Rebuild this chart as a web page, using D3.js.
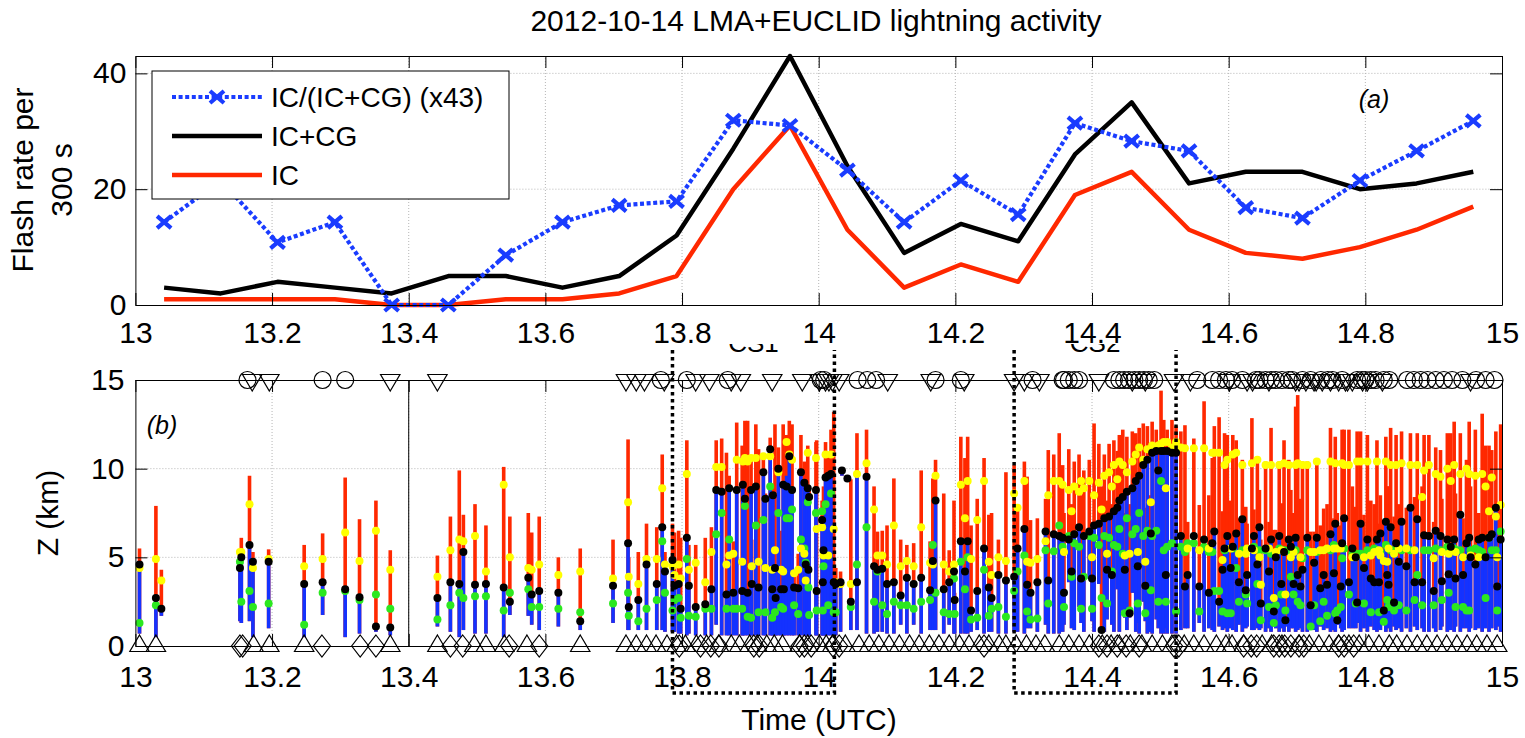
<!DOCTYPE html>
<html><head><meta charset="utf-8">
<script src="https://cdn.jsdelivr.net/npm/d3@7"></script>
<style>
body{margin:0;background:#fff}
svg text{font-family:"Liberation Sans",Arial,Helvetica,sans-serif;fill:#000}
</style>
</head><body>
<svg id="c" width="1525" height="738"></svg>
<script>
// ---------------- DATA ----------------
const xTicks = [13, 13.2, 13.4, 13.6, 13.8, 14, 14.2, 14.4, 14.6, 14.8, 15];
const rateTicks = [0, 20, 40];
const zTicks = [0, 5, 10, 15];

// panel (a): 300 s bins
const binTime = [13.042,13.125,13.208,13.292,13.375,13.458,13.542,13.625,13.708,13.792,13.875,13.958,
                 14.042,14.125,14.208,14.292,14.375,14.458,14.542,14.625,14.708,14.792,14.875,14.958];
const rateTotal = [3,2,4,3,2,5,5,3,5,12,27,43,24,9,14,11,26,35,21,23,23,20,21,23];
const rateIC    = [1,1,1,1,0,0,1,1,2,5,20,31,13,3,7,4,19,23,13,9,8,10,13,17];
const rateRatio43 = [14.3,21.5,10.8,14.3,0,0,8.6,14.3,17.2,17.9,31.9,31.0,23.3,14.3,21.5,15.6,31.4,28.3,26.6,16.8,15.0,21.5,26.6,31.8];
const legendLabels = ["IC/(IC+CG) (x43)", "IC+CG", "IC"];

// panel (b): flashes  [time, zBottom, zSplit, zTop, zYellow, zBlack, zGreen]
const flashesEarly = [
[13.006,0.7,4.6,5.5,4.4,4.6,1.3],[13.030,0.5,2.6,7.9,4.9,2.7,2.3],[13.038,1.7,2.1,4.3,3.7,2.1,null],
[13.153,1.4,4.4,4.7,5.3,4.4,4.75],[13.155,1.3,5.0,6.1,5.3,5.0,2.5],[13.167,1.4,5.7,9.6,8.0,5.7,3.1],
[13.172,0.5,4.75,5.3,4.4,4.75,2.2],[13.195,1.0,4.75,5.45,4.9,4.75,2.4],[13.247,0.5,3.5,5.7,4.5,3.5,1.2],
[13.274,1.75,3.6,6.35,4.9,3.6,3.0],[13.307,0.5,3.2,9.5,6.4,3.2,3.1],[13.328,0.7,2.75,7.15,4.8,2.75,2.6],
[13.352,0.8,1.1,8.2,6.5,1.1,2.9],[13.373,0.6,1.05,5.4,4.3,1.05,2.1],[13.442,1.1,2.7,5.1,3.9,2.7,1.5],
[13.461,0.8,3.6,7.3,5.4,3.6,2.3],[13.474,0.5,3.5,9.9,6.0,3.5,3.0],[13.480,0.9,5.3,7.4,5.9,5.3,2.7],
[13.497,0.7,3.45,8.0,6.2,3.45,2.8],[13.513,0.7,3.5,6.8,4.2,3.5,2.8],[13.539,0.5,3.3,10.1,9.1,3.3,2.0],
[13.548,1.75,2.5,7.3,5.0,2.5,3.0],[13.575,1.7,3.85,7.5,4.4,3.85,3.2],[13.580,1.2,2.9,6.4,4.3,2.9,2.2],
[13.591,0.9,3.1,7.3,4.6,3.1,2.2],[13.619,1.1,3.0,5.0,4.0,3.0,2.1],[13.651,0.9,1.4,5.5,4.2,1.4,1.9]
];
const flashesCS1 = [
[13.699,1.3,3.4,6.0,3.8,3.4,2.4],[13.721,0.9,5.8,11.65,8.1,5.8,3.0],[13.722,0.9,2.2,5.0,3.9,2.2,1.7],
[13.736,0.9,2.6,5.3,3.5,2.6,1.4],[13.748,0.9,4.6,6.9,4.9,4.6,2.1],[13.763,0.9,3.5,6.7,4.9,3.5,2.6],
[13.771,0.9,6.7,10.8,8.9,6.7,5.9],[13.775,0.8,4.2,5.3,4.6,4.2,3.0],[13.786,0.8,4.85,6.9,4.5,4.85,2.0],
[13.789,0.8,3.4,6.4,4.0,3.4,2.6],[13.795,0.7,3.5,6.5,4.6,3.5,2.7],[13.798,0.7,2.1,6.1,3.8,2.1,1.6],
[13.807,0.6,6.1,11.6,9.7,6.1,4.9],[13.810,0.7,3.4,5.7,4.3,3.4,1.7],[13.820,0.6,2.2,5.7,4.7,2.2,1.65],
[13.834,0.6,2.35,6.1,3.6,2.35,2.1],[13.843,0.6,3.2,6.7,5.3,3.2,2.1],[13.850,1.2,8.8,11.6,10.1,8.8,6.3],
[13.858,0.6,8.7,11.7,10.1,8.7,7.5],[13.865,0.6,2.9,10.9,4.6,2.9,2.1],[13.869,0.6,8.9,9.6,5.1,8.9,6.0],
[13.875,0.6,3.0,5.9,5.2,3.0,2.1],[13.880,0.6,8.8,12.6,10.5,8.8,2.1],[13.888,0.6,3.1,11.3,4.75,3.1,2.1],
[13.889,0.6,9.1,9.5,10.4,9.1,null],[13.892,0.6,8.3,12.7,10.6,8.3,7.9],[13.896,0.6,3.0,12.7,10.4,3.0,1.65],
[13.901,0.6,8.8,10.6,10.6,8.8,1.6],[13.902,0.6,3.5,6.0,4.5,3.5,null],[13.908,0.6,9.0,12.5,10.6,9.0,6.8],
[13.912,0.6,3.3,11.1,4.75,3.3,1.9],[13.919,0.6,9.8,10.8,10.7,9.8,7.1],[13.922,0.6,8.3,8.6,4.4,8.3,1.9],
[13.929,0.6,11.1,11.75,10.7,11.1,9.0],[13.932,0.6,3.2,5.3,4.3,3.2,1.6],[13.933,0.6,8.5,9.0,null,8.5,null],
[13.936,0.6,4.4,12.5,5.4,4.4,1.9],[13.937,0.6,2.7,4.0,null,2.7,null],[13.941,0.6,10.0,11.2,9.8,10.0,7.5],
[13.945,0.6,3.2,6.5,4.3,3.2,2.2],[13.948,0.6,9.1,12.5,4.2,9.1,2.1],[13.949,0.6,3.2,5.0,null,3.2,null],
[13.953,0.6,9.6,11.9,11.5,9.0,7.2],[13.957,0.6,10.7,12.7,10.8,10.7,7.2],[13.961,0.6,8.8,12.5,10.5,8.8,7.7],
[13.964,0.6,3.3,4.2,4.1,3.3,2.3],[13.970,0.6,3.25,5.2,4.3,3.25,1.8],[13.974,0.6,9.8,11.9,5.5,9.8,6.0],
[13.979,0.6,9.2,10.4,5.2,9.2,5.5],[13.981,0.6,4.6,5.9,3.7,4.6,4.7],[13.984,0.6,8.9,11.3,10.9,8.9,8.1],
[13.985,0.6,4.3,4.8,null,4.3,3.3],[13.986,0.6,8.4,8.8,null,8.4,1.75],[13.996,0.6,8.8,11.5,10.6,8.8,7.5],
[13.997,0.6,3.1,11.6,6.6,3.1,2.0],[14.005,0.6,7.1,8.2,6.7,7.1,7.6],[14.006,0.6,3.6,4.5,null,3.6,2.0],
[14.007,0.6,5.4,9.0,5.1,5.4,4.5],[14.010,0.6,9.5,11.5,10.8,9.5,8.0],[14.014,0.6,9.6,10.8,5.1,9.6,2.3],
[14.018,0.6,9.7,12.2,10.8,9.7,8.6],[14.022,0.6,3.6,13.2,6.6,3.6,1.9],[14.025,0.6,3.5,4.4,3.6,3.5,1.9],
[14.032,0.8,3.6,4.2,3.5,3.6,null],[14.034,9.6,9.9,10.0,null,9.9,null],[14.042,9.3,9.45,9.6,null,9.45,null],
[14.047,0.9,2.5,9.4,3.5,2.5,2.2],[14.056,0.9,9.7,12.0,9.7,3.6,4.6]
];
const flashesMid = [
[14.070,0.7,9.55,12.2,10.3,9.55,6.7],[14.081,0.7,4.5,9.0,7.7,4.5,2.5],[14.086,0.8,4.3,6.45,5.1,4.3,4.2],
[14.093,0.8,4.35,6.5,5.1,4.35,2.3],[14.100,0.7,3.5,6.8,4.6,3.5,1.8],[14.110,0.7,3.6,9.45,6.8,3.6,2.5],
[14.120,1.2,2.85,6.0,4.5,2.85,2.3],[14.129,0.7,3.85,5.7,4.8,3.85,2.3],[14.139,1.2,3.5,5.8,4.5,3.5,2.1],
[14.150,0.7,3.85,9.9,6.7,3.85,2.5],[14.163,0.9,3.15,5.9,4.7,3.15,2.6],[14.167,0.9,4.8,9.45,4.6,4.8,5.7],
[14.171,0.9,8.2,10.5,9.6,8.2,3.0],[14.183,0.7,3.2,8.6,4.6,3.2,1.9],[14.191,1.2,3.6,5.4,4.2,3.6,1.8],
[14.198,0.7,4.2,8.2,4.6,4.2,3.8],[14.199,0.7,2.6,3.0,null,2.6,1.8],[14.208,0.7,5.9,11.8,9.1,5.9,4.75],
[14.214,0.7,4.2,10.6,7.2,4.2,3.2],[14.218,0.7,5.9,11.8,9.3,5.9,5.0],[14.223,0.8,2.0,6.8,4.9,2.0,1.5],
[14.232,0.9,3.1,8.3,7.1,3.1,1.6],[14.242,0.7,5.5,10.6,9.3,5.5,4.3],[14.249,0.8,3.3,7.4,4.75,3.3,1.7],
[14.253,0.8,2.7,7.5,4.0,2.7,2.1],[14.263,0.7,4.0,6.0,5.0,4.0,2.2],[14.274,0.7,3.7,9.8,4.8,3.7,1.65],
[14.286,0.8,3.9,10.2,8.6,3.9,3.1],[14.291,0.8,5.5,7.8,7.8,5.5,4.2],[14.301,0.7,6.6,10.4,9.3,6.6,5.1],
[14.305,1.0,3.45,9.55,4.75,3.45,1.95],[14.310,1.0,3.0,7.1,4.7,3.0,1.5],[14.320,0.8,3.6,7.2,4.9,3.6,1.55],
[14.332,1.2,6.45,8.3,5.9,6.45,5.4],[14.336,0.7,3.7,11.05,8.5,3.7,2.4],[14.344,0.7,6.3,10.8,9.3,6.3,5.35],
[14.352,0.7,6.2,12.0,9.3,6.2,6.8]
];
const flashesCS2 = [
[14.357,0.8,6.1,10.2,9.1,6.1,5.6],[14.359,1.2,3.0,7.5,5.3,3.0,2.2],[14.366,3.6,6.0,11.1,8.8,6.0,6.2],
[14.370,1.0,4.2,8.0,7.6,4.2,3.9],[14.374,0.9,6.3,10.4,9.0,6.3,5.8],[14.381,2.2,6.7,10.8,8.7,6.7,5.6],
[14.384,1.3,3.8,8.5,9.3,3.8,2.1],[14.388,0.8,6.2,9.9,8.9,6.2,3.9],[14.396,3.8,6.45,10.5,9.3,6.45,6.2],
[14.400,1.4,3.8,7.0,5.0,3.8,2.1],[14.403,0.8,6.8,12.55,8.5,6.8,6.1],[14.410,3.5,6.9,11.4,9.2,6.9,5.7],
[14.414,0.9,0.9,9.0,7.7,0.9,2.7],[14.418,0.8,7.2,10.8,9.6,7.2,6.2],[14.422,1.5,4.3,8.2,5.2,4.3,2.4],
[14.425,3.9,7.3,11.4,9.8,7.3,6.1],[14.429,1.2,4.0,8.0,9.0,4.0,4.2],[14.432,0.8,7.6,11.6,10.2,7.6,5.7],
[14.437,3.2,7.8,11.0,9.4,7.8,5.6],[14.440,0.8,8.2,11.9,10.4,8.2,6.6],[14.445,2.0,8.4,12.2,10.2,8.4,5.2],
[14.448,1.6,4.3,7.5,5.1,4.3,1.85],[14.451,0.9,8.7,11.8,9.8,8.7,7.2],[14.455,1.6,1.85,8.0,5.2,1.85,2.0],
[14.459,3.0,8.9,12.1,10.4,8.9,6.3],[14.464,0.8,9.3,12.0,10.8,9.3,6.6],[14.467,1.3,4.5,9.0,5.3,4.5,2.4],
[14.469,0.7,9.6,12.3,11.2,9.6,7.5],[14.475,2.5,10.2,12.55,10.5,10.2,6.2],[14.478,1.4,3.4,7.8,4.75,3.4,1.85],
[14.481,0.7,10.5,12.4,11.1,10.5,6.5],[14.486,0.8,6.35,8.5,8.1,6.35,3.15],[14.488,0.7,10.9,12.65,11.3,10.9,6.2],
[14.494,1.5,11.0,12.2,11.2,11.0,6.5],[14.497,1.0,9.9,11.0,11.3,9.9,2.5],[14.501,0.7,11.0,14.4,11.4,11.0,9.3],
[14.505,0.7,11.0,12.75,11.5,11.0,5.4],[14.508,1.0,4.0,9.0,8.9,4.0,2.5],[14.510,0.7,11.0,12.2,11.5,11.0,5.6],
[14.517,0.7,10.9,12.75,11.2,10.9,5.8],[14.523,0.7,10.9,12.4,11.5,10.9,1.95],[14.530,0.9,6.2,12.1,11.2,6.2,5.6],
[14.536,1.0,3.35,12.45,11.15,3.35,5.3]
];
const flashesLate = [
[14.540,1.0,4.0,7.0,5.5,4.0,5.8],[14.549,0.8,6.2,11.7,11.15,6.2,5.8],[14.557,1.3,3.35,7.95,5.4,3.35,1.95],
[14.564,0.8,6.0,13.8,11.15,6.0,5.6],[14.571,1.0,3.0,8.5,5.5,3.0,5.3],[14.576,0.9,5.8,10.6,10.9,5.8,5.3],
[14.579,0.8,6.45,12.4,10.9,6.45,3.1],[14.586,1.1,2.5,12.9,10.9,2.5,3.1],[14.591,0.9,4.3,7.6,4.85,4.3,1.95],
[14.594,1.0,5.5,12.0,10.2,5.5,5.4],[14.598,0.8,6.2,11.9,10.5,6.2,1.85],[14.603,1.0,4.4,8.2,5.5,4.4,1.85],
[14.606,0.9,5.6,11.9,10.8,5.6,5.5],[14.611,0.8,6.35,11.6,10.9,6.35,4.4],[14.615,1.2,3.6,7.2,5.2,3.6,2.5],
[14.620,0.8,7.15,10.5,10.2,7.15,5.4],[14.625,1.0,3.15,7.85,5.2,3.15,2.9],[14.627,1.1,4.0,6.9,5.5,4.0,2.4],
[14.634,0.9,5.5,12.85,10.3,5.5,5.5],[14.637,0.9,6.2,7.7,5.4,6.2,5.6],[14.642,1.0,4.6,10.6,10.5,4.6,3.5],
[14.645,0.9,6.7,8.8,5.0,6.7,5.4],[14.647,1.0,2.4,6.0,3.45,2.4,1.45],[14.654,0.8,5.5,10.4,10.2,5.5,5.4],
[14.659,1.0,4.2,7.0,5.5,4.2,2.2],[14.662,0.8,6.0,12.3,10.2,6.0,5.2],[14.666,1.2,1.95,6.55,2.7,1.95,1.3],
[14.669,1.0,5.0,6.55,5.3,5.0,2.3],[14.674,0.8,6.2,10.4,10.2,6.2,5.5],[14.677,1.0,3.5,8.05,5.4,3.5,2.9],
[14.681,0.8,5.3,11.6,10.3,5.3,5.4],[14.683,1.1,1.45,6.0,2.9,1.45,2.0],[14.688,0.8,6.0,10.5,10.2,6.0,5.4],
[14.691,1.0,5.6,8.8,5.0,5.6,3.9],[14.695,1.0,3.5,7.5,5.3,3.5,2.9],[14.698,0.8,6.1,13.5,10.2,6.1,5.4],
[14.701,0.9,4.0,14.15,10.3,4.0,2.5],[14.705,1.0,3.35,8.3,5.0,3.35,2.3],[14.708,0.8,4.3,10.4,10.2,4.3,4.95],
[14.715,0.8,6.1,10.4,10.2,6.1,5.4],[14.720,1.1,2.3,6.45,5.3,2.3,1.1],[14.725,0.9,4.7,6.45,5.3,4.7,2.3],
[14.729,0.8,6.1,10.5,10.4,6.1,5.3],[14.734,1.1,3.25,6.8,5.4,3.25,1.4],[14.739,0.9,4.0,7.75,5.4,4.0,2.5],
[14.744,1.0,3.45,8.0,5.5,3.45,1.7],[14.749,0.8,6.3,12.3,10.4,6.3,5.4],[14.754,0.9,4.1,7.2,5.5,4.1,5.7],
[14.756,0.8,6.9,11.8,10.3,6.9,1.85],[14.759,1.2,1.45,7.5,5.5,1.45,2.0],[14.764,1.0,3.35,6.8,5.5,3.35,2.2],
[14.766,0.8,5.8,12.2,10.3,5.8,4.95],[14.769,0.9,7.2,12.2,10.2,7.2,5.5],[14.776,1.0,3.6,12.2,10.2,3.6,2.9],
[14.781,1.0,5.5,9.0,5.0,5.5,5.2],[14.786,1.0,5.0,7.85,5.0,5.0,2.4],[14.788,1.3,2.45,12.1,10.4,2.45,5.2],
[14.793,0.8,6.9,12.1,10.4,6.9,5.2],[14.798,1.0,4.4,7.4,5.0,4.4,2.4],[14.803,0.8,6.0,11.9,10.4,6.0,5.4],
[14.808,1.1,3.8,8.2,5.1,3.8,1.9],[14.813,0.9,3.6,8.0,5.3,3.6,5.5],[14.817,0.8,6.0,11.6,10.4,6.0,5.4],
[14.820,1.0,3.6,6.9,5.4,3.6,1.9],[14.822,0.9,6.35,8.5,5.1,6.35,5.3],[14.827,1.3,2.0,7.0,4.8,2.0,1.37],
[14.830,0.8,7.0,11.8,10.4,7.0,5.7],[14.832,1.0,4.0,9.0,4.75,4.0,2.6],[14.834,1.2,3.45,9.0,5.5,3.45,2.2],
[14.837,0.8,6.7,12.3,10.2,6.7,5.4],[14.842,1.1,2.45,7.3,5.2,2.45,2.0],[14.845,0.9,5.8,11.9,10.2,5.8,5.5],
[14.849,1.0,4.75,8.0,5.5,4.75,2.3],[14.853,0.8,7.0,12.1,10.3,7.0,5.4],[14.860,1.0,4.5,7.8,5.5,4.5,2.0],
[14.866,0.8,7.8,12.0,10.2,7.8,5.4],[14.872,1.1,3.6,8.4,5.4,3.6,2.6],[14.876,0.9,7.15,12.0,10.2,7.15,4.0],
[14.883,1.0,3.6,9.0,8.4,3.6,2.3],[14.886,0.8,6.25,11.9,9.9,6.25,5.4],[14.893,0.8,6.2,11.9,10.2,6.2,5.4],
[14.900,1.0,3.1,7.0,4.95,3.1,2.3],[14.903,0.8,6.5,11.2,9.7,6.5,5.5],[14.910,0.9,6.2,11.05,9.55,6.2,5.4],
[14.912,1.1,3.65,8.3,5.3,3.65,2.6],[14.920,0.8,6.0,12.0,10.0,6.0,5.6],[14.922,1.0,4.05,7.5,5.2,4.05,3.0],
[14.925,0.9,5.6,12.0,9.3,5.6,5.4],[14.930,0.8,6.0,12.65,10.2,6.0,5.5],[14.932,1.1,3.8,8.6,5.3,3.8,2.2],
[14.939,0.8,7.4,12.0,9.7,7.4,5.4],[14.943,1.0,4.0,7.2,5.0,4.0,2.2],[14.948,1.0,5.8,10.5,10.0,5.8,2.0],
[14.952,0.8,6.1,12.65,9.7,6.1,2.0],[14.954,1.0,5.0,9.0,5.1,5.0,5.4],[14.961,0.9,4.6,12.2,9.6,4.6,5.5],
[14.966,1.0,6.0,7.5,5.0,6.0,5.4],[14.971,0.8,6.1,13.1,9.7,6.1,5.3],[14.976,1.0,5.0,11.3,9.0,5.0,2.7],
[14.981,0.8,6.1,11.3,7.6,6.1,6.1],[14.985,1.0,6.3,11.05,9.5,6.3,5.4],[14.991,0.9,7.8,12.1,7.3,7.8,5.4],
[14.993,1.1,3.35,8.0,5.0,3.35,2.0],[14.998,0.8,6.0,12.5,7.95,6.0,6.45]
];

// EUCLID-type markers at the top (15 km) and bottom (0 km) of panel (b)
const topCircleT = [13.164,13.274,13.307,13.769,13.807,13.867,14.003,14.008,14.057,14.071,14.084,14.171,14.208,14.313,
  14.357,14.359,14.366,14.374,14.381,14.432,14.440,14.447,14.454,14.462,14.469,14.476,14.483,14.491,14.554,14.576,14.586,
  14.596,14.605,14.620,14.640,14.645,14.654,14.662,14.669,14.678,14.688,14.693,14.708,14.720,14.735,14.745,14.752,14.766,
  14.788,14.795,14.800,14.808,14.815,14.827,14.835,14.861,14.871,14.881,14.891,14.903,14.915,14.927,14.942,14.962,14.976,14.989];
const topTriT = [13.171,13.196,13.373,13.442,13.718,13.733,13.745,13.774,13.820,13.840,13.872,13.886,13.932,13.976,14.001,
  14.010,14.015,14.020,14.030,14.101,14.164,14.213,14.286,14.301,14.323,14.410,14.459,14.478,14.520,14.544,14.601,14.627,
  14.635,14.659,14.698,14.703,14.713,14.725,14.728,14.737,14.749,14.761,14.771,14.774,14.781,14.796,14.803,14.825,14.954];
const botTriT = [13.006,13.030,13.173,13.196,13.247,13.373,13.442,13.496,13.513,13.540,13.573,13.651,
  13.718,13.733,13.748,13.762,13.778,13.792,13.805,13.821,13.836,13.854,13.872,13.884,13.899,13.910,13.924,13.935,13.947,
  13.972,13.984,14.001,14.011,14.020,14.039,14.059,14.074,14.088,14.103,14.118,14.133,14.147,14.162,14.176,14.191,14.206,
  14.220,14.235,14.249,14.264,14.274,14.289,14.304,14.318,14.331,14.352,14.366,14.381,14.396,14.415,14.428,14.440,14.456,
  14.473,14.488,14.503,14.517,14.535,14.549,14.564,14.582,14.596,14.605,14.622,14.649,14.663,14.678,14.703,14.718,14.732,
  14.747,14.761,14.776,14.791,14.805,14.820,14.835,14.846,14.861,14.876,14.890,14.905,14.919,14.934,14.949,14.963,14.978,14.993];
const botDiamondT = [13.153,13.157,13.273,13.329,13.352,13.461,13.479,13.547,13.591,
  13.796,13.827,13.842,13.854,13.905,13.913,13.972,13.979,13.989,14.021,14.030,14.242,14.410,14.422,14.437,14.450,14.469,
  14.520,14.527,14.622,14.633,14.641,14.666,14.674,14.682,14.691,14.703,14.710,14.761,14.769,14.783];

// convective-surge boxes
const boxLabels = ["CS1", "CS2"];
const boxStart = [13.786, 14.286];
const boxEnd = [14.023, 14.523];
const boxZRange = [-2.65, 16.69];
const referenceLineT = [13.4];

// ---------------- STYLE ----------------
const RED = "#ff2800", BLUE = "#1432ff", LBLUE = "#1a3cff", YEL = "#ffff00", GRN = "#2be81f", GRID = "#b5b5b5";
const FONT = 30;

const svg = d3.select("#c");
const x = d3.scaleLinear().domain([13, 15]).range([135.4, 1502]);
const yA = d3.scaleLinear().domain([0, 43]).range([305, 56]);
const yB = d3.scaleLinear().domain([0, 15]).range([646, 380]);

function txt(parent, str, px, py, o = {}) {
  const t = parent.append("text").attr("x", px).attr("y", py).text(str)
    .attr("font-size", o.size || FONT).attr("text-anchor", o.anchor || "middle");
  if (o.rotate) t.attr("transform", `rotate(${o.rotate},${px},${py})`);
  if (o.italic) t.attr("font-style", "italic");
  return t;
}
function styleAxis(g, size) {
  g.attr("font-size", size).attr("font-family", '"Liberation Sans",Arial,sans-serif');
  g.selectAll("path.domain").attr("stroke", "#000").attr("stroke-width", 1);
  g.selectAll(".tick line").attr("stroke", "#000").attr("stroke-width", 1);
}

// ---------------- PANEL (a) ----------------
const gA = svg.append("g");
gA.selectAll("line.gx").data(xTicks.slice(1, -1)).join("line")
  .attr("x1", d => x(d)).attr("x2", d => x(d)).attr("y1", yA(0)).attr("y2", yA(43))
  .attr("stroke", GRID).attr("stroke-dasharray", "1,2");
gA.selectAll("line.gy").data(rateTicks.slice(1)).join("line")
  .attr("x1", x(13)).attr("x2", x(15)).attr("y1", d => yA(d)).attr("y2", d => yA(d))
  .attr("stroke", GRID).attr("stroke-dasharray", "1,2");

const lineFn = v => d3.line().x((d, i) => x(binTime[i])).y(d => yA(d))(v);
gA.append("path").attr("d", lineFn(rateIC)).attr("fill", "none").attr("stroke", RED).attr("stroke-width", 4.5).attr("stroke-linejoin", "round");
gA.append("path").attr("d", lineFn(rateTotal)).attr("fill", "none").attr("stroke", "#000").attr("stroke-width", 4.5).attr("stroke-linejoin", "round");
gA.append("path").attr("d", lineFn(rateRatio43)).attr("fill", "none").attr("stroke", LBLUE).attr("stroke-width", 4.2).attr("stroke-dasharray", "4,2.6");
const xMark = "M-7,-6L7,6M-7,6L7,-6";
gA.selectAll("path.xm").data(rateRatio43).join("path")
  .attr("transform", (d, i) => `translate(${x(binTime[i])},${yA(d)})`)
  .attr("d", xMark).attr("stroke", LBLUE).attr("stroke-width", 4.2).attr("fill", "none");

const axA1 = gA.append("g").attr("transform", `translate(0,${yA(0)})`)
  .call(d3.axisBottom(x).tickValues(xTicks).tickFormat(d3.format("")).tickSize(-12).tickSizeOuter(0).tickPadding(17));
const axA2 = gA.append("g").attr("transform", `translate(0,${yA(43)})`)
  .call(d3.axisTop(x).tickValues(xTicks).tickFormat("").tickSize(-12).tickSizeOuter(0));
const axA3 = gA.append("g").attr("transform", `translate(${x(13)},0)`)
  .call(d3.axisLeft(yA).tickValues(rateTicks).tickFormat(d3.format("")).tickSize(-12).tickSizeOuter(0).tickPadding(9));
const axA4 = gA.append("g").attr("transform", `translate(${x(15)},0)`)
  .call(d3.axisRight(yA).tickValues(rateTicks).tickFormat("").tickSize(-12).tickSizeOuter(0));
[axA1, axA2, axA3, axA4].forEach(g => styleAxis(g, FONT));

// legend
const lg = gA.append("g");
lg.append("rect").attr("x", 152).attr("y", 71).attr("width", 357).attr("height", 128)
  .attr("fill", "#fff").attr("stroke", "#000").attr("stroke-width", 1);
const legRows = [97, 136, 175];
lg.append("line").attr("x1", 172).attr("x2", 262).attr("y1", legRows[0]).attr("y2", legRows[0])
  .attr("stroke", LBLUE).attr("stroke-width", 4.2).attr("stroke-dasharray", "4,2.6");
lg.append("path").attr("transform", `translate(217,${legRows[0]})`).attr("d", xMark)
  .attr("stroke", LBLUE).attr("stroke-width", 4.2);
lg.append("line").attr("x1", 172).attr("x2", 262).attr("y1", legRows[1]).attr("y2", legRows[1])
  .attr("stroke", "#000").attr("stroke-width", 4.5);
lg.append("line").attr("x1", 172).attr("x2", 262).attr("y1", legRows[2]).attr("y2", legRows[2])
  .attr("stroke", RED).attr("stroke-width", 4.5);
legendLabels.forEach((s, i) => txt(lg, s, 271, legRows[i] + 10, { size: 28, anchor: "start" }));

txt(gA, "(a)", 1374, 108, { size: 25, italic: true });

// ---------------- PANEL (b) ----------------
const gB = svg.append("g");
const allFlashes = [].concat(flashesEarly, flashesCS1, flashesMid, flashesCS2, flashesLate);

gB.selectAll("line.gx").data(xTicks.slice(1, -1)).join("line")
  .attr("x1", d => x(d)).attr("x2", d => x(d)).attr("y1", yB(0)).attr("y2", yB(15))
  .attr("stroke", GRID).attr("stroke-dasharray", "1,2");
gB.selectAll("line.gy").data(zTicks.slice(1, -1)).join("line")
  .attr("x1", x(13)).attr("x2", x(15)).attr("y1", d => yB(d)).attr("y2", d => yB(d))
  .attr("stroke", GRID).attr("stroke-dasharray", "1,2");
gB.selectAll("line.ref").data(referenceLineT).join("line")
  .attr("x1", d => x(d)).attr("x2", d => x(d)).attr("y1", yB(0)).attr("y2", yB(15))
  .attr("stroke", "#000").attr("stroke-width", 1);

const BW = 3.6;
gB.append("g").selectAll("rect").data(allFlashes).join("rect")
  .attr("x", d => x(d[0]) - BW / 2).attr("width", BW)
  .attr("y", d => yB(d[3])).attr("height", d => Math.max(0, yB(d[1]) - yB(d[3])))
  .attr("fill", RED);
gB.append("g").selectAll("rect").data(allFlashes.filter(d => d[2] > d[1])).join("rect")
  .attr("x", d => x(d[0]) - BW / 2).attr("width", BW)
  .attr("y", d => yB(d[2])).attr("height", d => yB(d[1]) - yB(d[2]))
  .attr("fill", BLUE);

const R = 4;
gB.append("g").selectAll("circle").data(allFlashes.filter(d => d[6] != null)).join("circle")
  .attr("cx", d => x(d[0])).attr("cy", d => yB(d[6])).attr("r", R).attr("fill", GRN);
gB.append("g").selectAll("circle").data(allFlashes.filter(d => d[4] != null)).join("circle")
  .attr("cx", d => x(d[0])).attr("cy", d => yB(d[4])).attr("r", R).attr("fill", YEL);
gB.append("g").selectAll("circle").data(allFlashes.filter(d => d[5] != null)).join("circle")
  .attr("cx", d => x(d[0])).attr("cy", d => yB(d[5])).attr("r", R).attr("fill", "#000");

const triUp = "M0,-11L9.7,5.5L-9.7,5.5Z", triDown = "M0,11L9.7,-5.5L-9.7,-5.5Z", diamond = "M0,-11L8.5,0L0,11L-8.5,0Z";
const mk = gB.append("g").attr("fill", "none").attr("stroke", "#000").attr("stroke-width", 1.2);
mk.selectAll("circle").data(topCircleT).join("circle").attr("cx", d => x(d)).attr("cy", yB(15)).attr("r", 8.5);
mk.selectAll("path.td").data(topTriT).join("path").attr("transform", d => `translate(${x(d)},${yB(15)})`).attr("d", triDown);
mk.selectAll("path.tu").data(botTriT).join("path").attr("transform", d => `translate(${x(d)},${yB(0)})`).attr("d", triUp);
mk.selectAll("path.dm").data(botDiamondT).join("path").attr("transform", d => `translate(${x(d)},${yB(0)})`).attr("d", diamond);

const axB1 = gB.append("g").attr("transform", `translate(0,${yB(0)})`)
  .call(d3.axisBottom(x).tickValues(xTicks).tickFormat(d3.format("")).tickSize(-12).tickSizeOuter(0).tickPadding(20));
const axB2 = gB.append("g").attr("transform", `translate(0,${yB(15)})`)
  .call(d3.axisTop(x).tickValues(xTicks).tickFormat("").tickSize(-12).tickSizeOuter(0));
const axB3 = gB.append("g").attr("transform", `translate(${x(13)},0)`)
  .call(d3.axisLeft(yB).tickValues(zTicks).tickFormat(d3.format("")).tickSize(-12).tickSizeOuter(0).tickPadding(11));
const axB4 = gB.append("g").attr("transform", `translate(${x(15)},0)`)
  .call(d3.axisRight(yB).tickValues(zTicks).tickFormat("").tickSize(-12).tickSizeOuter(0));
[axB1, axB2, axB3, axB4].forEach(g => styleAxis(g, FONT));

// dotted boxes
const bx = svg.append("g").attr("fill", "none").attr("stroke", "#000").attr("stroke-width", 3.5).attr("stroke-dasharray", "3.5,3.5");
boxStart.forEach((s, i) => {
  const x0 = x(s), x1 = x(boxEnd[i]), yt = yB(boxZRange[1]), yb = yB(boxZRange[0]);
  bx.append("path").attr("d", `M${x0},${yt}L${x0},${yb}L${x1},${yb}L${x1},${yt}`);
});
svg.append("clipPath").attr("id", "csclip").append("rect").attr("x", 0).attr("y", 344).attr("width", 1525).attr("height", 20);
const csg = svg.append("g").attr("clip-path", "url(#csclip)");
boxStart.forEach((s, i) => txt(csg, boxLabels[i], (x(s) + x(boxEnd[i])) / 2, 352, { size: 26 }));

txt(gB, "(b)", 162, 434, { size: 25, italic: true });

// ---------------- LABELS ----------------
txt(svg, "2012-10-14 LMA+EUCLID lightning activity", 816, 31, { size: 30 });
txt(svg, "Flash rate per", 33, 180, { rotate: -90 });
txt(svg, "300 s", 72, 180, { rotate: -90 });
txt(svg, "Z (km)", 58, 513, { rotate: -90 });
txt(svg, "Time (UTC)", 819, 730);
</script>
</body></html>
